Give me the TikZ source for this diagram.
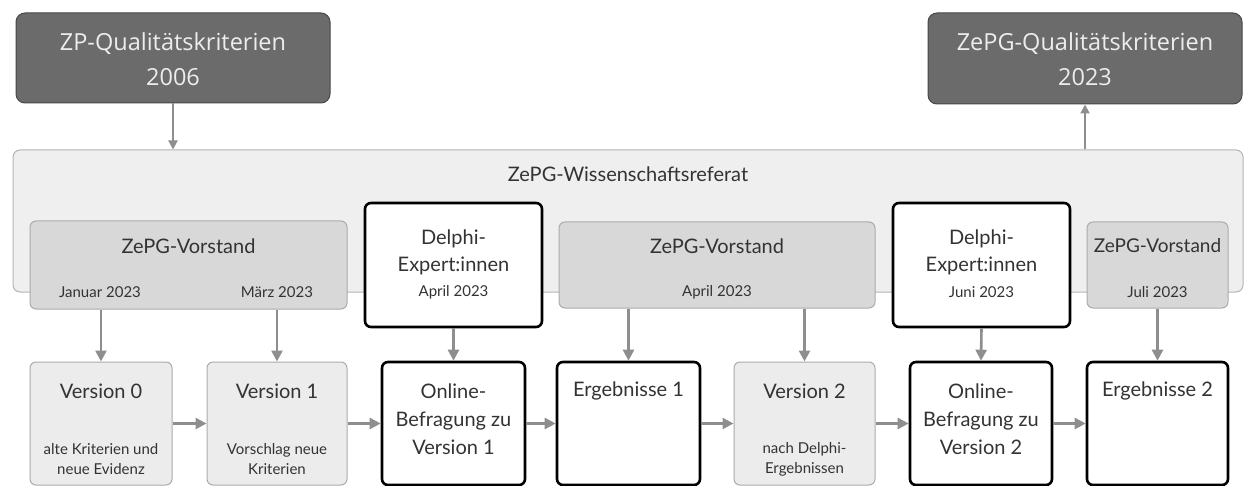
\documentclass[tikz,border=0pt]{standalone}
\usepackage{fontspec}
\setmainfont{Lato}
\newfontfamily\topfont{Open Sans}
\usetikzlibrary{arrows.meta}
\definecolor{darkbox}{HTML}{6B6B6B}
\definecolor{darkedge}{HTML}{474747}
\definecolor{panelfill}{HTML}{EFEFEF}
\definecolor{paneledge}{HTML}{B4B4B4}
\definecolor{vorfill}{HTML}{D8D8D8}
\definecolor{voredge}{HTML}{ABABAB}
\definecolor{verfill}{HTML}{ECECEC}
\definecolor{arrowgray}{HTML}{8E8E8E}
\definecolor{txt}{HTML}{333333}
\tikzset{
  x=1pt, y=-1pt,
  darkstyle/.style={draw=darkedge, line width=1pt, fill=darkbox, rounded corners=9pt, inner sep=0pt},
  panelstyle/.style={draw=paneledge, line width=1pt, fill=panelfill, rounded corners=7pt, inner sep=0pt},
  vorstyle/.style={draw=voredge, line width=1pt, fill=vorfill, rounded corners=6pt, inner sep=0pt},
  delphistyle/.style={draw=black, line width=2.6pt, fill=white, rounded corners=6pt, inner sep=0pt},
  verstyle/.style={draw=voredge, line width=1pt, fill=verfill, rounded corners=6pt, inner sep=0pt},
  toptext/.style={text=white!93!black, font=\topfont\fontsize{23.5}{35}\selectfont, align=center, inner sep=0pt},
  bigtext/.style={text=txt, font=\fontsize{20}{28}\selectfont, align=center, inner sep=0pt},
  smalltext/.style={text=txt, font=\fontsize{15}{20}\selectfont, align=center, inner sep=0pt},
  datetext/.style={text=txt, font=\fontsize{15}{16}\selectfont, inner sep=0pt},
  arr/.style={draw=arrowgray, line width=2.6pt, -{Triangle[length=11pt,width=11pt]}},
  thinarr/.style={draw=arrowgray, line width=2pt, -{Triangle[length=9pt,width=9pt]}},
}
\begin{document}
\begin{tikzpicture}
\useasboundingbox (0,0) rectangle (1244,486);
% top boxes
\node[darkstyle, minimum width=314pt, minimum height=90pt] (zp) at (173,58) {};
\node[toptext] (zpt) at (173,59) {ZP-Qualitätskriterien\\2006};
\node[darkstyle, minimum width=314pt, minimum height=91pt] (zepg) at (1085,58.5) {};
\node[toptext] (zepgt) at (1085,59) {ZePG-Qualitätskriterien\\2023};
% panel
\node[panelstyle, minimum width=1230pt, minimum height=142pt] (panel) at (628,221) {};
\node[bigtext] (panelt) at (628,174) {ZePG-Wissenschaftsreferat};
\draw[thinarr] (zp.south) -- (zp.south |- panel.north);
\draw[thinarr] (zepg.south |- panel.north) -- (zepg.south);
% middle row
\node[vorstyle, minimum width=317pt, minimum height=88pt] (v1) at (188.5,265) {};
\node[bigtext] (v1t) at (188.5,246) {ZePG-Vorstand};
\node[datetext] (v1a) at (100,292) {Januar 2023};
\node[datetext] (v1b) at (277,292) {März 2023};
\node[delphistyle, minimum width=177pt, minimum height=124pt] (d1) at (453.5,265) {};
\node[bigtext, font=\fontsize{20}{27}\selectfont] (d1t) at (453.5,252) {Delphi-\\Expert:innen};
\node[datetext] (d1d) at (453.5,292) {April 2023};
\node[vorstyle, minimum width=316pt, minimum height=86pt] (v2) at (717,265) {};
\node[bigtext] (v2t) at (717,246) {ZePG-Vorstand};
\node[datetext] (v2d) at (717,292) {April 2023};
\node[delphistyle, minimum width=177pt, minimum height=124pt] (d2) at (981.5,265) {};
\node[bigtext, font=\fontsize{20}{27}\selectfont] (d2t) at (981.5,252) {Delphi-\\Expert:innen};
\node[datetext] (d2d) at (981.5,292) {Juni 2023};
\node[vorstyle, minimum width=141pt, minimum height=86pt] (v3) at (1157.5,265) {};
\node[bigtext, font=\fontsize{19}{27}\selectfont] (v3t) at (1157.5,246) {ZePG-Vorstand};
\node[datetext] (v3d) at (1157.5,292) {Juli 2023};
% bottom row
\node[verstyle, minimum width=142pt, minimum height=123pt] (b0) at (101,423.5) {};
\node[bigtext] (b0t) at (101,391) {Version 0};
\node[smalltext] (b0s) at (101,459) {alte Kriterien und\\neue Evidenz};
\node[verstyle, minimum width=140pt, minimum height=123pt] (b1) at (277,423.5) {};
\node[bigtext] (b1t) at (277,391) {Version 1};
\node[smalltext] (b1s) at (277,459) {Vorschlag neue\\Kriterien};
\node[delphistyle, minimum width=143pt, minimum height=123pt] (o1) at (453.5,423.5) {};
\node[bigtext] (o1t) at (453.5,419) {Online-\\Befragung zu\\Version 1};
\node[delphistyle, minimum width=143pt, minimum height=123pt] (e1) at (628.5,423.5) {};
\node[bigtext] (e1t) at (628.5,391) {Ergebnisse 1};
\node[verstyle, minimum width=141pt, minimum height=123pt] (b2) at (804.5,423.5) {};
\node[bigtext] (b2t) at (804.5,391) {Version 2};
\node[smalltext] (b2s) at (804.5,459) {nach Delphi-\\Ergebnissen};
\node[delphistyle, minimum width=142pt, minimum height=123pt] (o2) at (981,423.5) {};
\node[bigtext] (o2t) at (981,419) {Online-\\Befragung zu\\Version 2};
\node[delphistyle, minimum width=141pt, minimum height=123pt] (e2) at (1157.5,423.5) {};
\node[bigtext] (e2t) at (1157.5,391) {Ergebnisse 2};
% vertical arrows
\draw[arr] (b0.north |- v1.south) -- (b0.north);
\draw[arr] (b1.north |- v1.south) -- (b1.north);
\draw[arr] (d1.south) -- (o1.north);
\draw[arr] (e1.north |- v2.south) -- (e1.north);
\draw[arr] (b2.north |- v2.south) -- (b2.north);
\draw[arr] (d2.south) -- (o2.north);
\draw[arr] (e2.north |- v3.south) -- (e2.north);
% horizontal arrows
\draw[arr] (b0.east) -- (b1.west);
\draw[arr] (b1.east) -- (o1.west);
\draw[arr] (o1.east) -- (e1.west);
\draw[arr] (e1.east) -- (b2.west);
\draw[arr] (b2.east) -- (o2.west);
\draw[arr] (o2.east) -- (e2.west);
\end{tikzpicture}
\end{document}
